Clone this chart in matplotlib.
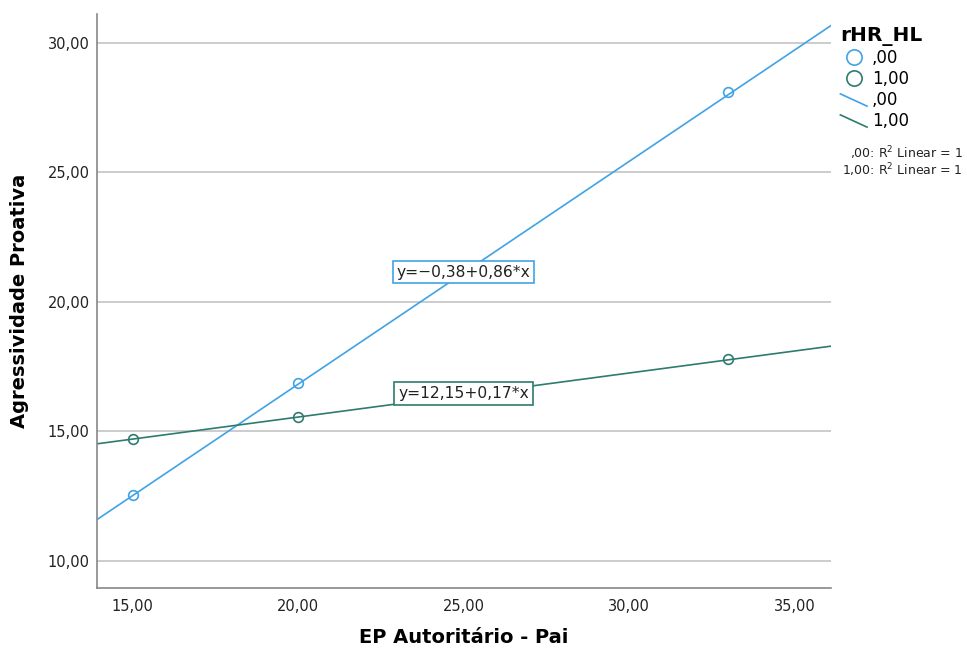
"""Agressividade proativa vs EP autoritário (pai), por rHR_HL."""

import numpy as np
import matplotlib
matplotlib.use('Agg')
import matplotlib.pyplot as plt
from matplotlib.lines import Line2D
from matplotlib.legend_handler import HandlerBase

# dados
groups = [',00', '1,00']
x_pts = [[15.0, 20.0, 33.0], [15.0, 20.0, 33.0]]
y_pts = [[12.55, 16.85, 28.1], [14.7, 15.55, 17.8]]
intercepts = [-0.38, 12.15]
slopes = [0.86, 0.17]
eq_labels = ['y=\u22120,38+0,86*x', 'y=12,15+0,17*x']
eq_pos = [(25.0, 21.15), (25.0, 16.45)]
colors = ['#3fa3e6', '#2e7b6f']

xticks = [15, 20, 25, 30, 35]
yticks = [10, 15, 20, 25, 30]
xlim = (13.91, 36.09)
ylim = (8.95, 31.1)


def fmt(v):
    return f'{v:.2f}'.replace('.', ',')


class DiagHandler(HandlerBase):
    # linha diagonal na legenda, como no SPSS
    def create_artists(self, legend, orig_handle, xdescent, ydescent,
                       width, height, fontsize, trans):
        x0, x1 = -xdescent, -xdescent + width
        y0, y1 = -ydescent + height * 0.95, -ydescent - height * 0.1
        return [Line2D([x0, x1], [y0, y1], color=orig_handle.get_color(),
                       lw=orig_handle.get_linewidth(), transform=trans)]


fig = plt.figure(figsize=(9.67, 6.5), dpi=100)
ax = fig.add_axes([0.1, 0.0954, 0.759, 0.8826])

for yv in yticks:
    ax.axhline(yv, color='#c8c8c8', lw=1.3, zorder=0)

xx = np.array(xlim)
for i in range(len(groups)):
    ax.plot(xx, intercepts[i] + slopes[i] * xx, color=colors[i], lw=1.2, zorder=2)
    ax.plot(x_pts[i], y_pts[i], 'o', mfc='none', mec=colors[i], mew=1.2, ms=7, zorder=3)
    ax.text(eq_pos[i][0], eq_pos[i][1], eq_labels[i], ha='center', va='center',
            fontsize=11.2, color='#222222', zorder=4,
            bbox=dict(boxstyle='square,pad=0.25', fc='white', ec=colors[i], lw=1.2))

ax.set_xlim(*xlim)
ax.set_ylim(*ylim)
ax.set_xticks(xticks)
ax.set_xticklabels([fmt(v) for v in xticks])
ax.set_yticks(yticks)
ax.set_yticklabels([fmt(v) for v in yticks])
ax.tick_params(length=0, labelsize=10.5, colors='#222222')
ax.tick_params(axis='y', pad=5)
ax.tick_params(axis='x', pad=8)
for side in ('top', 'right'):
    ax.spines[side].set_visible(False)
for side in ('left', 'bottom'):
    ax.spines[side].set_color('#888888')
    ax.spines[side].set_linewidth(1.2)

ax.set_xlabel('EP Autoritário - Pai', fontsize=14, fontweight='bold', va='center')
ax.set_ylabel('Agressividade Proativa', fontsize=14, fontweight='bold', va='center')
ax.xaxis.set_label_coords(0.5, -0.087)
ax.yaxis.set_label_coords(-0.105, 0.5)

handles = [Line2D([], [], ls='none', marker='o', mfc='none', mec=c, mew=1.2, ms=11)
           for c in colors]
lines = [Line2D([], [], color=c, lw=1.2) for c in colors]
leg = fig.legend(handles + lines, groups + groups, title='rHR_HL', loc='upper left',
                 bbox_to_anchor=(0.857, 0.978), frameon=False, fontsize=12,
                 handlelength=1.6, handletextpad=0.3, labelspacing=0.18,
                 borderpad=0.2, handler_map={l: DiagHandler() for l in lines})
leg.get_title().set_fontweight('bold')
leg.get_title().set_fontsize(14.5)
leg._legend_box.align = 'left'

for i, g in enumerate(groups):
    fig.text(0.996, 0.765 - i * 0.027, f'{g}: R$^2$ Linear = 1', ha='right',
             va='center', fontsize=9, color='#222222')

fig.savefig('out.png', dpi=100)
